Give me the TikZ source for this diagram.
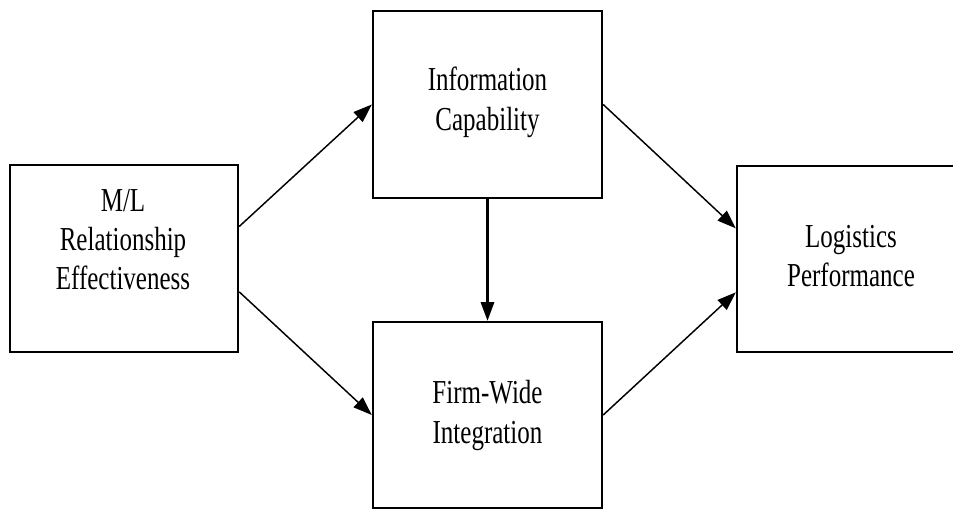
\documentclass[tikz,border=0pt]{standalone}
\usepackage{fontspec}
\setmainfont{Liberation Serif}
\usetikzlibrary{arrows.meta}
\newcommand{\tallt}[1]{\scalebox{1}[1.34]{#1}}
\tikzset{
  box/.style={draw=black, line width=1.8pt, fill=white, inner sep=0pt},
  lbl/.style={anchor=base, inner sep=0pt, font=\fontsize{18.75}{30}\selectfont},
  arr/.style={line width=1.1pt, -{Triangle[length=14pt,width=10pt]}}
}
\begin{document}
\begin{tikzpicture}[x=0.75pt,y=-0.75pt]
\useasboundingbox (0,0) rectangle (953,509);
% boxes
\node[box, minimum width=171pt, minimum height=140.25pt] (ml) at (124,258.5) {};
\node[box, minimum width=171.75pt, minimum height=140.25pt] (info) at (487.5,104.5) {};
\node[box, minimum width=171.75pt, minimum height=139.5pt] (firm) at (487.5,415) {};
\node[box, minimum width=171pt, minimum height=139.5pt] (log) at (851,259) {};
% texts
\node[lbl] (ml1) at (123,212) {\tallt{M/L}};
\node[lbl] (ml2) at (123,251) {\tallt{Relationship}};
\node[lbl] (ml3) at (123,290) {\tallt{Effectiveness}};
\node[lbl] (in1) at (487.5,91) {\tallt{Information}};
\node[lbl] (in2) at (487.5,131) {\tallt{Capability}};
\node[lbl] (fw1) at (487.5,403) {\tallt{Firm-Wide}};
\node[lbl] (fw2) at (487.5,443) {\tallt{Integration}};
\node[lbl] (lp1) at (851,248) {\tallt{Logistics}};
\node[lbl] (lp2) at (851,287) {\tallt{Performance}};
% connectors
\draw[arr] ([yshift=24pt]ml.east) -- (info.west);
\draw[arr] ([yshift=-25pt]ml.east) -- (firm.west);
\draw[arr, line width=1.6pt] (info.south) -- (firm.north);
\draw[arr] (info.east) -- ([yshift=23pt]log.west);
\draw[arr] (firm.east) -- ([yshift=-25pt]log.west);
\end{tikzpicture}
\end{document}
